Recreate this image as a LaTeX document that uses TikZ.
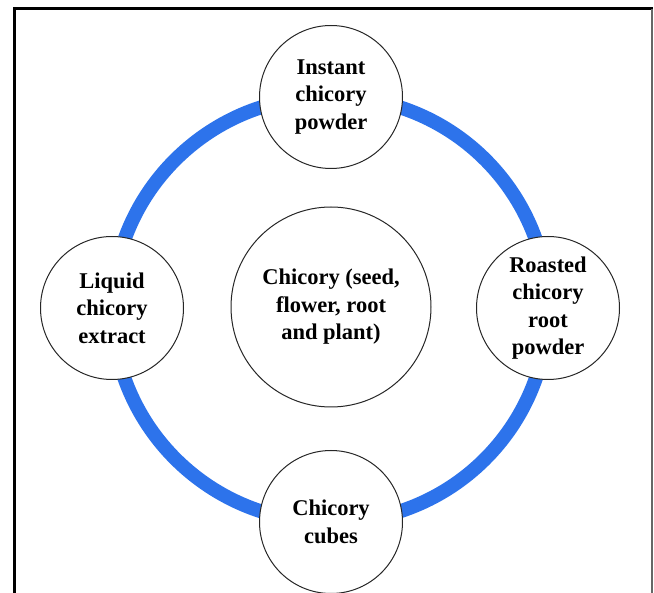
\documentclass[tikz,border=0pt]{standalone}
\usepackage{fontspec}
\setmainfont{Liberation Serif}
\usetikzlibrary{backgrounds}
\definecolor{ringblue}{RGB}{45,115,235}
\tikzset{
  product/.style={circle,draw=black!85,line width=1pt,fill=white,
    minimum size=143pt,inner sep=0pt,align=center,
    font=\bfseries\fontsize{22.5}{27.5}\selectfont},
  source/.style={product,minimum size=200pt},
  ring/.style={draw=ringblue,line width=14pt}
}
\begin{document}
\begin{tikzpicture}[x=1pt,y=-1pt]
        \useasboundingbox (0,0) rectangle (654,593);
        \draw[line width=3pt] (14,596) -- (14,9) -- (653,9);
        \draw[black!60,line width=1.5pt] (652,9) -- (652,596);
        \node[source] (plant) at (331,307) {Chicory (seed,\\flower, root\\and plant)};
        \node[product] (instant) at (331,97) {Instant\\chicory\\powder};
        \node[product] (roasted) at (548,308) {Roasted\\chicory\\root\\powder};
        \node[product] (cubes) at (331,522) {Chicory\\cubes};
        \node[product] (liquid) at (112,308) {Liquid\\chicory\\extract};
        \begin{scope}[on background layer]
          \foreach \a/\b in {instant/roasted,roasted/cubes,cubes/liquid,liquid/instant}{
            \draw[ring] (\a.center) to[bend left=45] (\b.center);}
        \end{scope}
      \end{tikzpicture}
\end{document}
